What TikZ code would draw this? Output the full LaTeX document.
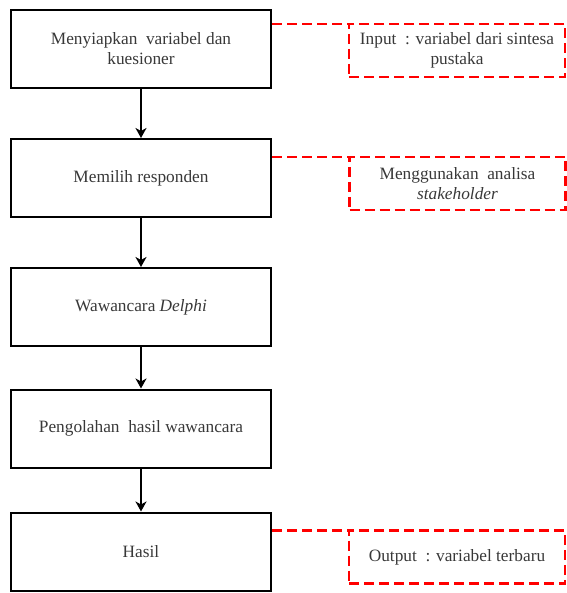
\documentclass[tikz,border=0pt]{standalone}
\usepackage{fontspec}
\setmainfont{Liberation Serif}
\usetikzlibrary{arrows.meta}
\begin{document}
\begin{tikzpicture}[x=1pt,y=-1pt,
  stepbox/.style={draw=black,line width=2pt,minimum width=260pt,minimum height=78pt,inner sep=0pt,text=black!78,align=center,font=\fontsize{17.3}{20}\selectfont},
  notebox/.style={draw=red,line width=2.2pt,dash pattern=on 10pt off 5pt,minimum width=216pt,minimum height=53pt,inner sep=0pt,outer sep=0pt,text=black!78,align=center,font=\fontsize{17.3}{20}\selectfont},
  reddash/.style={draw=red,line width=2.2pt,dash pattern=on 10pt off 5pt},
  flow/.style={draw=black,line width=2pt,-{Stealth[length=10pt,width=11pt,inset=3pt]}}]
\useasboundingbox (0,0) rectangle (566,593);
\node[stepbox] (b1) at (141,49) {\raisebox{-4pt}{Menyiapkan\ \ variabel dan}\\\raisebox{-4pt}{kuesioner}};
\node[stepbox] (b2) at (141,178) {\raisebox{-3pt}{Memilih responden}};
\node[stepbox] (b3) at (141,307) {\raisebox{-3pt}{Wawancara \textit{Delphi}}};
\node[stepbox] (b4) at (141,428.5) {\raisebox{-3pt}{Pengolahan\ \ hasil wawancara}};
\node[stepbox] (b5) at (141,551.5) {Hasil};
\node[notebox] (d1) at (457,50.5) {\raisebox{-4pt}{Input\ \ : variabel dari sintesa}\\\raisebox{-4pt}{pustaka}};
\node[notebox] (d2) at (457.5,183.5) {\raisebox{-2pt}{Menggunakan\ \ analisa}\\\raisebox{-2pt}{\textit{stakeholder}}};
\node[notebox] (d3) at (457,557) {\raisebox{-2pt}{Output\ \ : variabel terbaru}};
\draw[reddash] (b1.east |- d1.north) -- (d1.north west);
\draw[reddash] (b2.east |- d2.north) -- (d2.north west);
\draw[reddash] (b5.east |- d3.north) -- (d3.north west);
\draw[flow] (b1.south) -- (b2.north);
\draw[flow] (b2.south) -- (b3.north);
\draw[flow] (b3.south) -- (b4.north);
\draw[flow] (b4.south) -- (b5.north);
\end{tikzpicture}
\end{document}
